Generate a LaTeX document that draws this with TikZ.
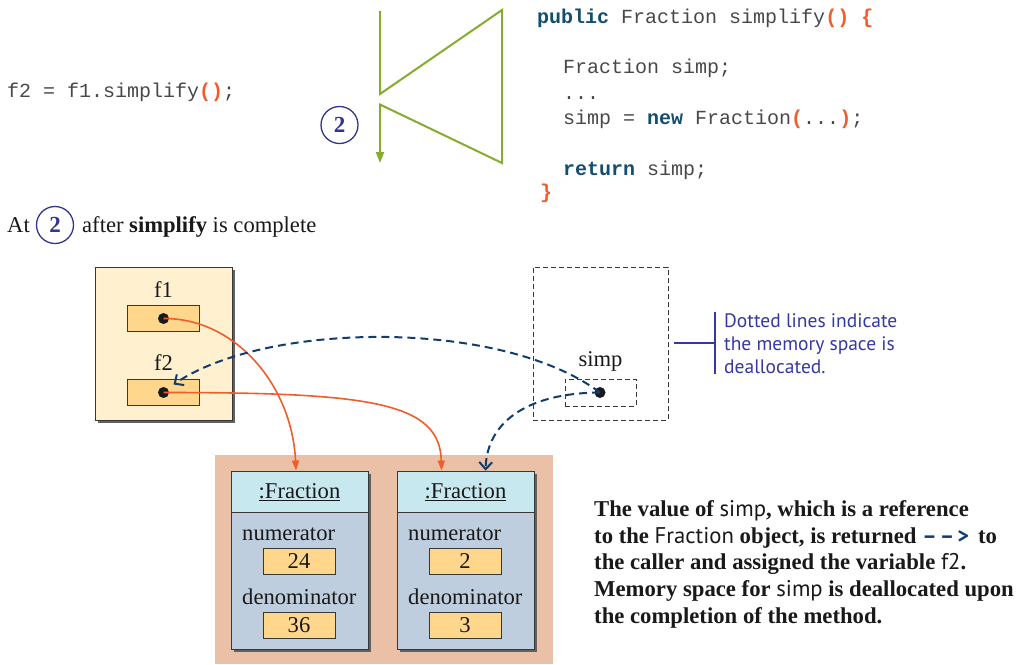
\documentclass[tikz,border=0pt]{standalone}
\usepackage{fontspec}
\setmainfont{Liberation Serif}
\setmonofont{Liberation Mono}
\newfontfamily\labelsans{PT Sans}
\usetikzlibrary{arrows.meta,shadows}
\definecolor{greenline}{RGB}{134,172,46}
\definecolor{circblue}{RGB}{48,52,146}
\definecolor{codekw}{RGB}{18,78,112}
\definecolor{codepa}{RGB}{240,92,44}
\definecolor{codegray}{RGB}{72,72,72}
\definecolor{cream}{RGB}{255,240,207}
\definecolor{varfill}{RGB}{254,214,140}
\definecolor{pinkbg}{RGB}{234,193,166}
\definecolor{headfill}{RGB}{200,232,240}
\definecolor{bodyfill}{RGB}{190,206,222}
\definecolor{navydash}{RGB}{16,60,110}
\definecolor{callblue}{RGB}{52,56,160}
\definecolor{edgegray}{RGB}{55,55,55}
\newcommand\cdkw[1]{{\color{codekw}\bfseries #1}}
\newcommand\cdpa[1]{{\color{codepa}\bfseries #1}}
\newcommand\insans[1]{{\labelsans\mdseries #1}}
\begin{document}
\begin{tikzpicture}[x=1pt,y=-1pt,
  code/.style={anchor=base west,inner sep=0pt,font=\fontsize{20}{24}\selectfont\ttfamily,text=codegray},
  lbl/.style={anchor=base,inner sep=0pt,font=\fontsize{22.6}{26}\selectfont,text=black!90},
  lblw/.style={anchor=base west,inner sep=0pt,font=\fontsize{22.6}{26}\selectfont,text=black!90},
  para/.style={anchor=base west,inner sep=0pt,font=\fontsize{22.7}{26}\selectfont\bfseries,text=black!90},
  calltxt/.style={anchor=base west,inner sep=0pt,font=\fontsize{19.5}{23}\selectfont\labelsans,text=callblue},
  stepcirc/.style={circle,draw=circblue,line width=1.3pt,minimum size=37pt,inner sep=0pt,
     font=\fontsize{23}{26}\selectfont\bfseries,text=circblue},
  shadowed/.style={drop shadow={shadow xshift=3pt,shadow yshift=-3pt,opacity=1,fill=black!62}},
  varbox/.style={draw=edgegray,line width=0.9pt,fill=varfill,minimum width=72pt,minimum height=26pt,inner sep=0pt,
     font=\fontsize{22.6}{26}\selectfont,text=black!90},
  dot/.style={circle,fill=black!90,minimum size=11pt,inner sep=0pt},
  dashframe/.style={draw=edgegray,line width=0.9pt,dash pattern=on 5pt off 3pt},
  oarrow/.style={draw=codepa,line width=1.6pt,-{Triangle[length=10pt,width=7pt]}},
  narrow/.style={draw=navydash,line width=2pt,dash pattern=on 8pt off 5pt,-{Straight Barb[length=7pt,width=13pt,line width=2pt]}}
]
\useasboundingbox (0,0) rectangle (1024,664);

% ---- code on top
\node[code] (call) at (7,97) {f2 = f1.simplify\cdpa{()};};
\node[code] (c1) at (537,23) {\cdkw{public} Fraction simplify\cdpa{()} \cdpa{\{}};
\node[code] (c2) at (563,73) {Fraction simp;};
\node[code] (c3) at (563,99) {...};
\node[code] (c4) at (563,124) {simp = \cdkw{new} Fraction\cdpa{(}...\cdpa{)};};
\node[code] (c5) at (563,175) {\cdkw{return} simp;};
\node[code] (c6) at (540,198) {\cdpa{\}}};

% ---- green flow
\draw[greenline,line width=2pt,line join=miter,-{Triangle[length=11pt,width=8pt]}]
  (380,11) -- (380,94) -- (502,10) -- (502,163) -- (380,104.5) -- (380,163);
\node[stepcirc] (s2a) at (339.5,125) {2};

% ---- "At 2 after simplify is complete"
\node[lblw] (at) at (7,232) {At};
\node[stepcirc] (s2b) at (55,225) {2};
\node[lblw] (after) at (82,232) {after \textbf{simplify} is complete};

% ---- caller stack frame
\node[shadowed,draw=edgegray,line width=0.9pt,fill=cream,minimum width=137pt,minimum height=153pt] (stackL) at (163.5,343.5) {};
\node[lbl] (f1lbl) at (163.5,297) {f1};
\node[varbox] (f1box) at (163.5,318.5) {};
\node[dot] (f1dot) at (163.5,318.5) {};
\node[lbl] (f2lbl) at (163.5,370) {f2};
\node[varbox] (f2box) at (163.5,392.5) {};
\node[dot] (f2dot) at (163.5,392.5) {};

% ---- deallocated simplify frame
\node[dashframe,minimum width=135pt,minimum height=153pt] (simpframe) at (600.5,343.5) {};
\node[lbl] (simplbl) at (600.5,366) {simp};
\node[dashframe,minimum width=71pt,minimum height=27pt] (simpbox) at (600.5,392.5) {};
\node[dot] (simpdot) at (600,392.5) {};

% ---- callout
\coordinate (cbA) at (674,343);
\coordinate (cbB) at (715,343);
\coordinate (cbT) at (715,312);
\coordinate (cbD) at (715,374);
\draw[callblue,line width=2pt] (cbA) -- (cbB);
\draw[callblue,line width=2pt] (cbT) -- (cbD);
\node[calltxt] (ct1) at (724,327) {Dotted lines indicate};
\node[calltxt] (ct2) at (724,350) {the memory space is};
\node[calltxt] (ct3) at (724,373) {deallocated.};

% ---- heap
\node[fill=pinkbg,minimum width=338pt,minimum height=209pt,inner sep=0pt] (heap) at (384,559.5) {};
\node[shadowed,draw=edgegray,line width=0.9pt,fill=bodyfill,minimum width=137pt,minimum height=178pt] (obj1) at (299.5,560) {};
\node[draw=edgegray,line width=0.9pt,fill=headfill,minimum width=137pt,minimum height=41.5pt] (h1) at (299.5,491.75) {};
\node[lbl] (h1t) at (299.5,498) {\underline{:Fraction}};
\node[lblw] (n1) at (242,540) {numerator};
\node[varbox] (v24) at (299,561) {24};
\node[lblw] (d1) at (242,604) {denominator};
\node[varbox] (v36) at (299,625) {36};

\node[shadowed,draw=edgegray,line width=0.9pt,fill=bodyfill,minimum width=137pt,minimum height=178pt] (obj2) at (465.5,560) {};
\node[draw=edgegray,line width=0.9pt,fill=headfill,minimum width=137pt,minimum height=41.5pt] (h2) at (465.5,491.75) {};
\node[lbl] (h2t) at (465.5,498) {\underline{:Fraction}};
\node[lblw] (n2) at (408,540) {numerator};
\node[varbox] (v2) at (465,561) {2};
\node[lblw] (d2) at (408,604) {denominator};
\node[varbox] (v3) at (465,625) {3};

% ---- references
\draw[oarrow] (f1dot.center) .. controls (235,318) and (292,385) .. ([xshift=-3.5pt]h1.north);
\draw[oarrow] (f2dot.center) .. controls (370,392.5) and (440,402) .. ([xshift=-24pt]h2.north);
\draw[narrow] (simpdot.center) .. controls (500,318) and (265,322) .. ([xshift=10pt,yshift=8pt]f2dot.center);
\draw[narrow] (simpdot.center) .. controls (530,393) and (487,420) .. ([xshift=20pt]h2.north);

% ---- explanation
\node[para] (p1) at (594,516.7) {The value of \insans{simp}, which is a reference};
\node[para] (p2) at (594,543.3) {to the \insans{Fraction} object, is returned\kern6pt{\labelsans\bfseries\fontsize{22}{26}\selectfont\color{navydash}\textendash\kern3pt\textendash\kern3pt>}\kern9pt to};
\node[para] (p3) at (594,569.9) {the caller and assigned the variable \insans{f2}.};
\node[para] (p4) at (594,596.5) {Memory space for \insans{simp} is deallocated upon};
\node[para] (p5) at (594,623.1) {the completion of the method.};
\end{tikzpicture}
\end{document}
